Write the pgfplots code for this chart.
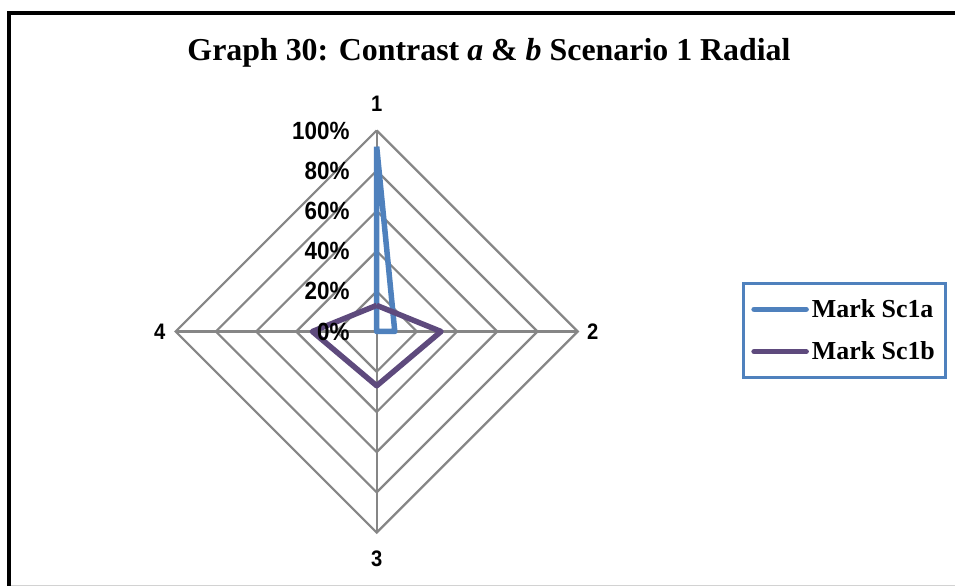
\documentclass[border=0pt]{standalone}
\usepackage{fontspec}
\usepackage{pgfplots}
\pgfplotsset{compat=1.18}
\usepgfplotslibrary{polar}

\setmainfont{Liberation Serif}
\newfontfamily\titlefont{Liberation Serif}
\newfontfamily\legfont{Liberation Serif}
\newfontfamily\labfont[FakeStretch=0.9]{Liberation Sans}

\definecolor{seriesA}{HTML}{4F81BD}
\definecolor{seriesB}{HTML}{5E4A7D}
\definecolor{gridgray}{HTML}{868686}

\begin{document}
\begin{tikzpicture}[x=1bp,y=1bp]
\begin{polaraxis}[
  at={(0,0)}, anchor=center,
  scale only axis, width=402bp, height=402bp,
  ymin=0, ymax=100,
  hide axis, clip=false,
  legend style={
    at={(1.664,0.5025)}, anchor=center,
    draw=seriesA, line width=3bp,
    font=\legfont\fontsize{26}{30}\selectfont\bfseries,
    inner xsep=8bp, inner ysep=13bp, row sep=17bp,
    nodes={inner sep=3bp},
    cells={anchor=west},
  },
  legend image code/.code={\draw[#1, line cap=round] (0bp,0bp) -- (52bp,0bp);},
  grid line/.style={gridgray, line width=2.2bp, forget plot},
]
% diamond gridlines at 20, 40, ..., 100 %
\addplot[grid line] coordinates {(90,20) (0,20) (270,20) (180,20) (90,20)};
\addplot[grid line] coordinates {(90,40) (0,40) (270,40) (180,40) (90,40)};
\addplot[grid line] coordinates {(90,60) (0,60) (270,60) (180,60) (90,60)};
\addplot[grid line] coordinates {(90,80) (0,80) (270,80) (180,80) (90,80)};
\addplot[grid line] coordinates {(90,100) (0,100) (270,100) (180,100) (90,100)};
% spokes
\addplot[grid line] coordinates {(90,100) (270,100)};
\addplot[grid line] coordinates {(0,100) (180,100)};

% series (angle: 1 -> 90, 2 -> 0, 3 -> 270, 4 -> 180)
\addplot[seriesA, line width=5.5bp, line join=round] coordinates
  {(90,92) (0,9) (270,0) (180,0) (90,92)};
\addlegendentry{Mark Sc1a}
\addplot[seriesB, line width=5.5bp, line join=round] coordinates
  {(90,13) (0,32) (270,27) (180,32) (90,13)};
\addlegendentry{Mark Sc1b}

% radial tick labels
\foreach \r in {0,20,40,60,80,100} {
  \edef\tmp{\noexpand\node[anchor=east, inner sep=0pt,
    font=\noexpand\labfont\noexpand\fontsize{25}{28}\noexpand\selectfont\noexpand\bfseries]
    at (axis cs:90,\r) [xshift=-27bp] {\r\noexpand\%};}
  \tmp
}
% category labels
\node[font=\labfont\fontsize{22.5}{26}\selectfont\bfseries] at (axis cs:90,100) [yshift=27bp] {1};
\node[font=\labfont\fontsize{22.5}{26}\selectfont\bfseries] at (axis cs:0,100) [xshift=15bp] {2};
\node[font=\labfont\fontsize{22.5}{26}\selectfont\bfseries] at (axis cs:270,100) [yshift=-26bp] {3};
\node[font=\labfont\fontsize{22.5}{26}\selectfont\bfseries] at (axis cs:180,100) [xshift=-16bp] {4};
\end{polaraxis}

% page furniture, in a frame whose origin is the page's lower-left corner
\begin{scope}[shift={(-376.7,-254.5)}]
  \draw[line width=4.5bp] (9,-20) -- (9,573) -- (980,573);
  \draw[gray!35, line width=1bp] (11,0.6) -- (955,0.6);
  \node[font=\titlefont\fontsize{32}{36}\selectfont\bfseries] at (489,533)
    {Graph 30: Contrast \textit{a} \& \textit{b} Scenario 1 Radial};
  \pgfresetboundingbox
  \useasboundingbox (0,0) rectangle (955,586);
\end{scope}
\end{tikzpicture}
\end{document}
